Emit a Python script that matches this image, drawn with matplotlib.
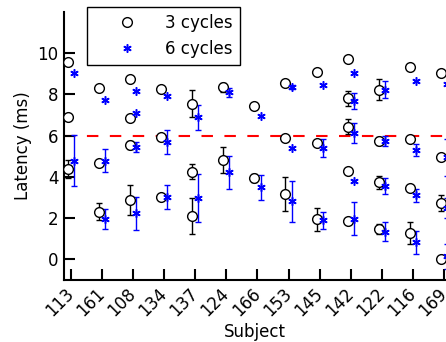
import matplotlib
matplotlib.use("Agg")
import matplotlib.pyplot as plt
import numpy as np

subjects = ["113", "161", "108", "134", "137", "124", "166",
            "153", "145", "142", "122", "116", "169"]

# 3 cycles: latency values per subject and their error half-widths (0 = no bar)
cyc3_vals = [
    [9.58, 6.89, 4.39],
    [8.29, 4.66, 2.32],
    [8.73, 6.84, 5.55, 2.89],
    [8.26, 5.92, 3.05],
    [7.56, 4.26, 2.10],
    [8.34, 4.82],
    [7.45, 3.94],
    [8.55, 5.87, 3.18],
    [9.11, 5.66, 1.94],
    [9.74, 7.82, 6.44, 4.31, 1.85],
    [8.24, 5.73, 3.74, 1.48],
    [9.31, 5.82, 3.45, 1.29],
    [9.03, 4.98, 2.73, 0.02],
]
cyc3_errs = [
    [0, 0, 0.45],
    [0, 0, 0.42],
    [0, 0, 0.2, 0.72],
    [0, 0.15, 0],
    [0.66, 0.35, 0.89],
    [0.2, 0.65],
    [0, 0.2],
    [0, 0, 0.84],
    [0, 0, 0.55],
    [0, 0.37, 0.37, 0, 0],
    [0.5, 0.2, 0.32, 0.25],
    [0, 0, 0.15, 0.54],
    [0.1, 0, 0.4, 0],
]

# 6 cycles
cyc6_vals = [
    [9.06, 4.79],
    [7.74, 4.79, 1.97],
    [8.19, 7.08, 5.44, 2.23],
    [7.94, 5.71, 3.02],
    [6.89, 2.98],
    [8.10, 4.23],
    [6.94, 3.50],
    [8.37, 5.40, 2.81],
    [8.47, 5.40, 1.89],
    [9.06, 7.69, 6.13, 3.82, 1.97],
    [8.24, 5.73, 3.55, 1.35],
    [8.63, 5.31, 3.10, 0.84],
    [8.50, 4.95, 2.50, 0.15],
]
cyc6_errs = [
    [0, 1.25],
    [0, 0.55, 0.48],
    [0, 0, 0.25, 0.79],
    [0, 0.58, 0.6],
    [0.6, 1.17],
    [0.2, 0.8],
    [0, 0.6],
    [0.1, 0, 1.0],
    [0, 0.43, 0.4],
    [0, 0.38, 0.48, 0, 0.8],
    [0.4, 0.25, 0.4, 0.47],
    [0, 0.3, 0.32, 0.56],
    [0, 0.9, 0.5, 0.6],
]

threshold = 6.0


def flatten(vals, errs, shift):
    xs, ys, es = [], [], []
    for i, (vv, ee) in enumerate(zip(vals, errs)):
        for v, e in zip(vv, ee):
            xs.append(i + shift)
            ys.append(v)
            es.append(e)
    return np.array(xs), np.array(ys), np.array(es)


fig = plt.figure(figsize=(4.46, 3.42), dpi=100)
ax = fig.add_axes([64 / 446, 62 / 342, 382 / 446, 268 / 342])

ax.axhline(threshold, color="red", lw=1.5, dashes=(5.5, 5.5), zorder=1)

x3, y3, e3 = flatten(cyc3_vals, cyc3_errs, -0.1)
x6, y6, e6 = flatten(cyc6_vals, cyc6_errs, 0.1)

# error bars only where a bar is visible
m3 = e3 > 0
ax.errorbar(x3[m3], y3[m3], yerr=e3[m3], fmt="none", ecolor="black",
            elinewidth=1, capsize=2.5, capthick=1, zorder=2)
m6 = e6 > 0
ax.errorbar(x6[m6], y6[m6], yerr=e6[m6], fmt="none", ecolor="blue",
            elinewidth=1, capsize=2.5, capthick=1, zorder=2)

ax.plot(x3, y3, "o", ms=7, mfc="white", mec="black", mew=1,
        ls="none", label="3 cycles", zorder=3)
ax.plot(x6, y6, marker=(6, 2, 0), ms=6, color="blue", mew=1.1,
        ls="none", label="6 cycles", zorder=3)

ax.set_xlim(-0.225, 12.066)
ax.set_ylim(-1, 12)
ax.set_yticks([0, 2, 4, 6, 8, 10])
ax.set_xticks(range(len(subjects)))
ax.set_xticklabels(subjects, rotation=45, ha="right", va="center",
                   rotation_mode="anchor")
ax.tick_params(direction="in", length=8, width=1.5, labelsize=12)
ax.tick_params(axis="x", pad=8)
ax.tick_params(axis="y", pad=4)
for s in ("top", "right"):
    ax.spines[s].set_visible(False)
for s in ("left", "bottom"):
    ax.spines[s].set_linewidth(1.5)

ax.set_xlabel("Subject", fontsize=12, labelpad=2)
ax.set_ylabel("Latency (ms)", fontsize=12, labelpad=4)

leg = fig.legend(loc="upper left", bbox_to_anchor=(87 / 446, 1 - 7 / 342),
                 fontsize=12, handlelength=4, handletextpad=0.3,
                 fancybox=False, edgecolor="black", framealpha=1,
                 borderpad=0.4, borderaxespad=0)
leg.get_frame().set_linewidth(1)

fig.savefig("out.png", dpi=100)
